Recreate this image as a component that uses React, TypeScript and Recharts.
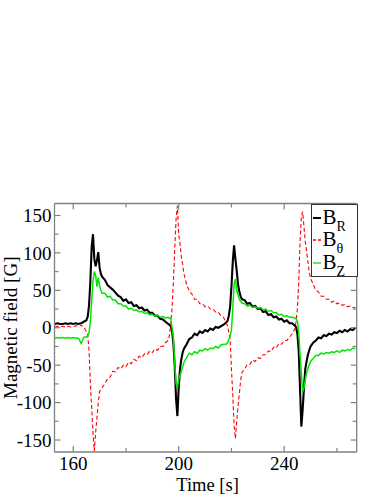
import React from 'react'
import { LineChart, Line, XAxis, YAxis, Legend } from 'recharts'

// time axis (s) — finer around the current sheet crossings
const time = [
  153, 154, 155, 156, 157, 158, 159, 160, 161, 162, 163, 164,
  165, 165.5, 166, 166.5, 167, 167.5, 168, 168.5, 169, 169.5, 170, 170.5, 171,
  172, 173, 174, 175, 176, 177, 178, 179, 180, 181, 182, 183, 184, 185, 186, 187, 188, 189, 190, 191, 192, 193, 194, 195,
  196, 196.5, 197, 197.5, 198, 198.5, 199, 199.5, 200, 200.5, 201, 201.5, 202,
  203, 204, 205, 206, 207, 208, 209, 210, 211, 212, 213, 214, 215, 216, 217,
  218, 218.5, 219, 219.5, 220, 220.5, 221, 221.5, 222, 222.5, 223, 223.5, 224,
  225, 226, 227, 228, 229, 230, 231, 232, 233, 234, 235, 236, 237, 238, 239, 240, 241, 242, 243,
  244, 244.5, 245, 245.5, 246, 246.5, 247, 247.5, 248, 248.5, 249, 249.5, 250,
  251, 252, 253, 254, 255, 256, 257, 258, 259, 260, 261, 262, 263, 264, 265, 266, 267,
]

const bR = [
  5, 6, 5, 5, 6, 5, 6, 5, 6, 5, 6, 8,
  10, 15, 30, 62, 108, 125, 92, 82, 90, 101, 80, 72, 68,
  64, 57, 54, 51, 47, 43, 41, 36, 38, 33, 34, 29, 30, 26, 27, 23, 24, 20, 20, 16, 16, 12, 11, 8,
  5, 4, 2, -5, -22, -52, -95, -118, -80, -55, -42, -33, -28,
  -22, -15, -13, -8, -10, -5, -7, -3, -5, -1, -3, 1, 0, 2, 4,
  7, 9, 16, 28, 55, 88, 110, 92, 76, 58, 48, 42, 38,
  37, 32, 33, 28, 29, 25, 26, 21, 22, 17, 18, 14, 15, 11, 12, 8, 10, 6, 6,
  3, 1, -8, -30, -80, -132, -110, -80, -55, -45, -36, -30, -25,
  -20, -17, -13, -14, -10, -11, -8, -9, -6, -7, -4, -6, -3, -5, -2, -3, 0,
]

const bTheta = [
  1, 2, 1, 2, 1, 2, 1, 2, 2, 5, 3, 1,
  -5, -10, -30, -75, -107, -140, -165, -140, -120, -100, -85, -82, -80,
  -75, -68, -66, -58, -59, -53, -55, -50, -52, -46, -48, -42, -44, -38, -40, -35, -36, -31, -33, -28, -30, -25, -25, -20,
  -17, -10, 5, 28, 62, 105, 145, 163, 125, 112, 95, 84, 72,
  58, 49, 45, 38, 38, 32, 32, 28, 29, 25, 25, 21, 21, 16, 14,
  6, 3, -6, -15, -55, -90, -130, -148, -125, -105, -88, -70, -60,
  -55, -49, -49, -43, -45, -40, -41, -36, -36, -31, -32, -26, -27, -21, -22, -17, -17, -13, -8,
  -2, 8, 25, 60, 113, 148, 155, 135, 115, 102, 88, 74, 66,
  58, 50, 48, 42, 42, 38, 38, 34, 36, 32, 33, 30, 31, 28, 29, 27, 27,
]

const bZ = [
  -14, -13, -14, -13, -14, -13, -14, -13, -14, -14, -21, -13,
  -12, -11, -7, 8, 35, 62, 75, 70, 55, 67, 56, 50, 46,
  46, 41, 42, 37, 37, 32, 32, 29, 29, 25, 26, 23, 24, 21, 22, 19, 20, 17, 18, 15, 17, 14, 15, 13,
  14, 13, 12, 0, -15, -48, -75, -80, -68, -64, -58, -52, -46,
  -40, -34, -36, -32, -34, -30, -31, -28, -30, -27, -28, -25, -27, -23, -22,
  -22, -20, -16, -11, -3, 25, 58, 65, 50, 44, 38, 35, 33,
  32, 29, 30, 27, 28, 26, 27, 24, 25, 22, 23, 20, 20, 17, 18, 15, 16, 14, 14,
  13, 12, 9, -5, -35, -60, -86, -80, -70, -60, -54, -50, -45,
  -41, -37, -37, -34, -35, -33, -34, -32, -33, -31, -33, -30, -31, -29, -30, -27, -28,
]

const xTicks = [160, 180, 200, 220, 240, 260]
const xLabeled = [160, 200, 240]
const yTicks = [-150, -125, -100, -75, -50, -25, 0, 25, 50, 75, 100, 125, 150]
const yLabeled = [-150, -100, -50, 0, 50, 100, 150]

const data = time.map((t, i) => ({ t, bR: bR[i], bTheta: bTheta[i], bZ: bZ[i] }))

const FONT = '"Liberation Serif", "DejaVu Serif", serif'
const FRAME = '#808080'
const X_DOMAIN = [152.9, 267.5]
const Y_DOMAIN = [-166, 166]

// ticks point into the plot, like the original grace plot
function BottomTick({ x, y, payload }: any) {
  const major = xLabeled.includes(payload.value)
  return (
    <g>
      <line x1={x} y1={y} x2={x} y2={y - (major ? 6 : 4)} stroke={FRAME} strokeWidth={1.2} />
      {major && (
        <text x={x} y={y + 17.5} textAnchor="middle" fontSize={19} fontFamily={FONT} fill="#000">
          {payload.value}
        </text>
      )}
    </g>
  )
}

function TopTick({ x, y, payload }: any) {
  const major = xLabeled.includes(payload.value)
  return <line x1={x} y1={y} x2={x} y2={y + (major ? 6 : 4)} stroke={FRAME} strokeWidth={1.2} />
}

function LeftTick({ x, y, payload }: any) {
  const major = yLabeled.includes(payload.value)
  return (
    <g>
      <line x1={x} y1={y} x2={x + (major ? 6 : 4)} y2={y} stroke={FRAME} strokeWidth={1.2} />
      {major && (
        <text x={x - 3} y={y} dy="0.35em" textAnchor="end" fontSize={19} fontFamily={FONT} fill="#000">
          {payload.value}
        </text>
      )}
    </g>
  )
}

function RightTick({ x, y, payload }: any) {
  const major = yLabeled.includes(payload.value)
  return <line x1={x} y1={y} x2={x - (major ? 6 : 4)} y2={y} stroke={FRAME} strokeWidth={1.2} />
}

const legendOrder = ['bR', 'bTheta', 'bZ']
const subs: Record<string, string> = { bR: 'R', bTheta: 'θ', bZ: 'Z' }

function LegendBox({ payload }: any) {
  const items = [...(payload || [])].sort(
    (a: any, b: any) => legendOrder.indexOf(a.dataKey) - legendOrder.indexOf(b.dataKey)
  )
  return (
    <div style={{ width: 45, height: 71, border: '1.3px solid #333', background: '#fff', fontFamily: FONT, position: 'relative' }}>
      {items.map((p: any, i: number) => (
        <div key={p.dataKey} style={{ position: 'absolute', left: 0, top: 2 + i * 22.5, height: 22, width: 45 }}>
          <svg width={10} height={22} style={{ position: 'absolute', left: 0, top: 0 }}>
            <line x1={1} y1={11} x2={9} y2={11} stroke={p.color} strokeWidth={p.dataKey === 'bR' ? 2 : 1.3} strokeDasharray={p.dataKey === 'bTheta' ? '3 2' : undefined} />
          </svg>
          <span style={{ position: 'absolute', left: 11, top: -2, fontSize: 21, lineHeight: '24px', color: '#000' }}>
            B<span style={{ fontSize: 14, position: 'relative', top: 7 }}>{subs[p.dataKey]}</span>
          </span>
        </div>
      ))}
    </div>
  )
}

export default function App() {
  return (
    <div style={{ position: 'absolute', left: 0, top: 0, width: 382, height: 494, background: '#fff' }}>
      <LineChart width={382} height={494} data={data} margin={{ top: 201.5, right: 24.3, bottom: 0, left: 9.5 }}>
        <XAxis
          xAxisId="bottom" dataKey="t" type="number" domain={X_DOMAIN} allowDataOverflow ticks={xTicks} interval={0}
          height={42} tickSize={0} tickMargin={0} tickLine={false} tick={(p: any) => <BottomTick {...p} />}
          axisLine={{ stroke: FRAME, strokeWidth: 1.3 }}
          label={(p: any) => {
            const vb = p.viewBox
            return (
              <text x={vb.x + vb.width / 2 + 2} y={vb.y + 38.5} textAnchor="middle" fontSize={18.5} fontFamily={FONT} fill="#000">
                Time [s]
              </text>
            )
          }}
        />
        <XAxis
          xAxisId="top" orientation="top" dataKey="t" type="number" domain={X_DOMAIN} allowDataOverflow ticks={xTicks} interval={0}
          height={2} tickSize={0} tickMargin={0} tickLine={false} tick={(p: any) => <TopTick {...p} />}
          axisLine={{ stroke: FRAME, strokeWidth: 1.3 }}
        />
        <YAxis
          yAxisId="left" type="number" domain={Y_DOMAIN} allowDataOverflow ticks={yTicks} interval={0}
          width={45} tickSize={0} tickMargin={0} tickLine={false} tick={(p: any) => <LeftTick {...p} />}
          axisLine={{ stroke: FRAME, strokeWidth: 1.3 }}
          label={(p: any) => {
            const vb = p.viewBox
            const cx = vb.x + 0.5
            const cy = vb.y + vb.height / 2
            return (
              <text x={cx} y={cy} dy="0.35em" transform={`rotate(-90 ${cx} ${cy})`} textAnchor="middle" fontSize={19} fontFamily={FONT} fill="#000">
                Magnetic field [G]
              </text>
            )
          }}
        />
        <YAxis
          yAxisId="right" orientation="right" type="number" domain={Y_DOMAIN} allowDataOverflow ticks={yTicks} interval={0}
          width={1} tickSize={0} tickMargin={0} tickLine={false} tick={(p: any) => <RightTick {...p} />}
          axisLine={{ stroke: FRAME, strokeWidth: 1.3 }}
        />
        <Legend
          layout="horizontal" verticalAlign="middle" align="center"
          content={(p: any) => <LegendBox {...p} />}
          wrapperStyle={{ top: 203.5, left: 310.5, width: 47, height: 73 }}
        />
        <Line xAxisId="bottom" yAxisId="left" dataKey="bR" name="B_R" stroke="#000000" strokeWidth={2.1} dot={false} isAnimationActive={false} />
        <Line xAxisId="bottom" yAxisId="left" dataKey="bTheta" name="B_θ" stroke="#ff0000" strokeWidth={1.1} strokeDasharray="4 2.5" dot={false} isAnimationActive={false} />
        <Line xAxisId="bottom" yAxisId="left" dataKey="bZ" name="B_Z" stroke="#00e600" strokeWidth={1.5} dot={false} isAnimationActive={false} />
      </LineChart>
    </div>
  )
}
